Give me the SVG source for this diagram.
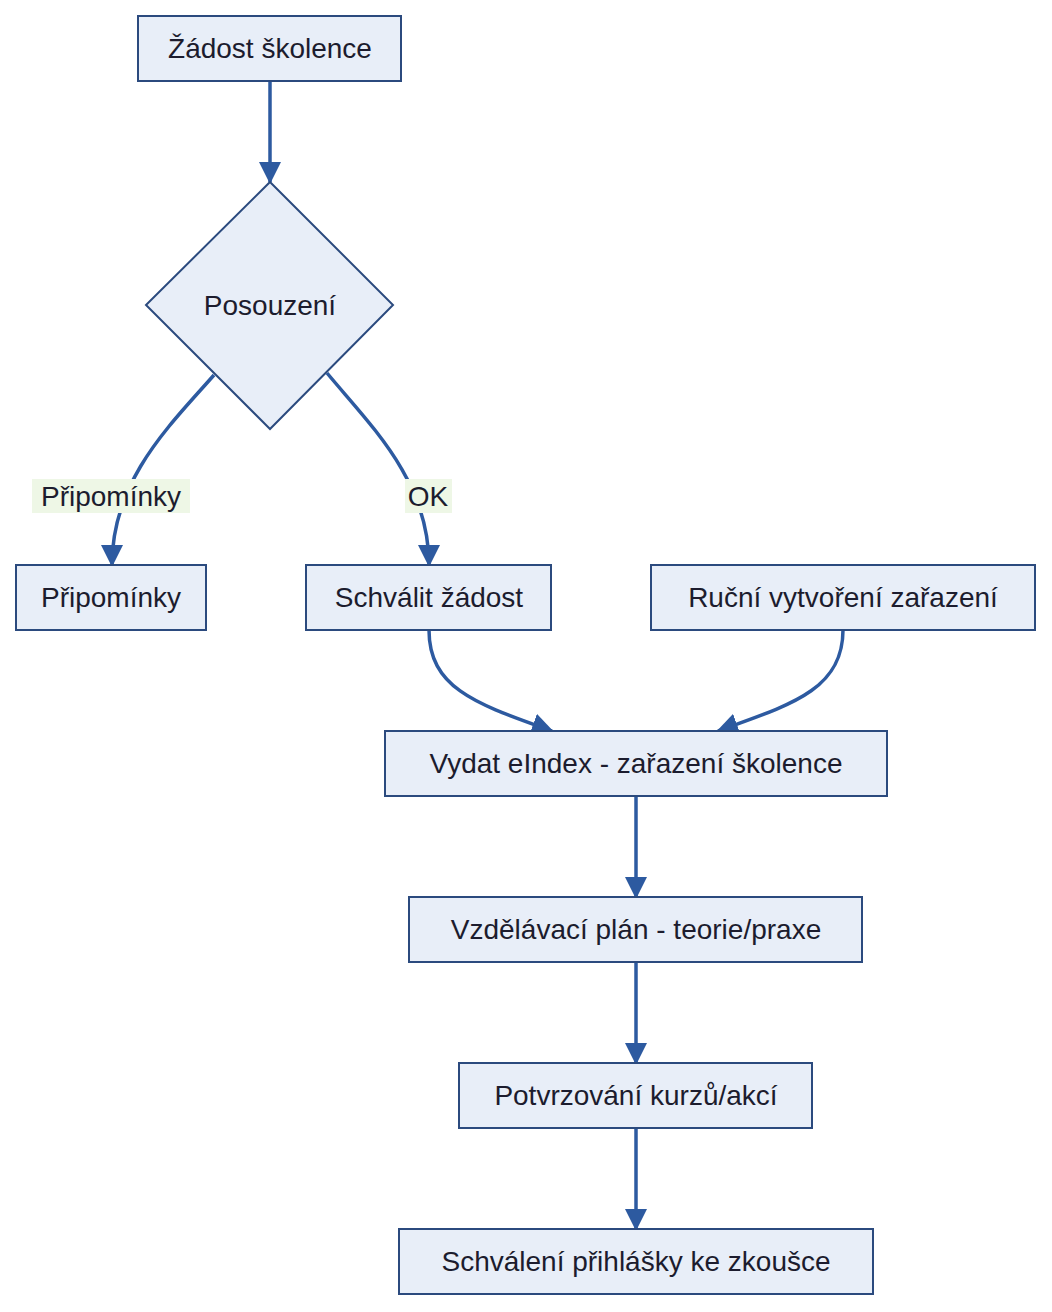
<svg xmlns="http://www.w3.org/2000/svg" width="1052" height="1312" viewBox="0 0 1052 1312">
<style>
.n{fill:#e8eef8;stroke:#2b4a7e;stroke-width:2}
.t{font-family:"Liberation Sans",Arial,sans-serif;font-size:28px;fill:#1c1c2e;text-anchor:middle;dominant-baseline:central}
.e{fill:none;stroke:#2d5aa0;stroke-width:3.5}
.lb{fill:#eef7e6}
</style>
<defs>
<marker id="a" markerUnits="userSpaceOnUse" markerWidth="24" markerHeight="22" refX="20" refY="11" orient="auto">
<path d="M0,0 L22,11 L0,22 Z" fill="#2d5aa0"/>
</marker>
</defs>
<rect width="1052" height="1312" fill="#ffffff"/>
<g id="edges">
<path class="e" d="M270,81 L270,182" marker-end="url(#a)"/>
<path class="e" d="M214,375 C170,425 112,480 112,565" marker-end="url(#a)"/>
<path class="e" d="M327,373 C370,425 429,480 429,565" marker-end="url(#a)"/>
<path class="e" d="M429,630 C429,690 480,705 552,731" marker-end="url(#a)"/>
<path class="e" d="M843,630 C843,690 790,705 718,731" marker-end="url(#a)"/>
<path class="e" d="M636,796 L636,897" marker-end="url(#a)"/>
<path class="e" d="M636,962 L636,1063" marker-end="url(#a)"/>
<path class="e" d="M636,1128 L636,1229" marker-end="url(#a)"/>
<rect class="lb" x="32" y="479" width="158" height="34"/>
<text class="t" x="111" y="496">Připomínky</text>
<rect class="lb" x="405" y="479" width="47" height="34"/>
<text class="t" x="428" y="496">OK</text>
</g>
<g id="n1"><rect class="n" x="138" y="16" width="263" height="65"/><text class="t" x="270" y="48">Žádost školence</text></g>
<g id="n2"><polygon class="n" points="270,182 393,305 270,429 146,305"/><text class="t" x="270" y="305">Posouzení</text></g>
<g id="n3"><rect class="n" x="16" y="565" width="190" height="65"/><text class="t" x="111" y="597">Připomínky</text></g>
<g id="n4"><rect class="n" x="306" y="565" width="245" height="65"/><text class="t" x="429" y="597">Schválit žádost</text></g>
<g id="n5"><rect class="n" x="651" y="565" width="384" height="65"/><text class="t" x="843" y="597">Ruční vytvoření zařazení</text></g>
<g id="n6"><rect class="n" x="385" y="731" width="502" height="65"/><text class="t" x="636" y="763">Vydat eIndex - zařazení školence</text></g>
<g id="n7"><rect class="n" x="409" y="897" width="453" height="65"/><text class="t" x="636" y="929">Vzdělávací plán - teorie/praxe</text></g>
<g id="n8"><rect class="n" x="459" y="1063" width="353" height="65"/><text class="t" x="636" y="1095">Potvrzování kurzů/akcí</text></g>
<g id="n9"><rect class="n" x="399" y="1229" width="474" height="65"/><text class="t" x="636" y="1261">Schválení přihlášky ke zkoušce</text></g>
</svg>
